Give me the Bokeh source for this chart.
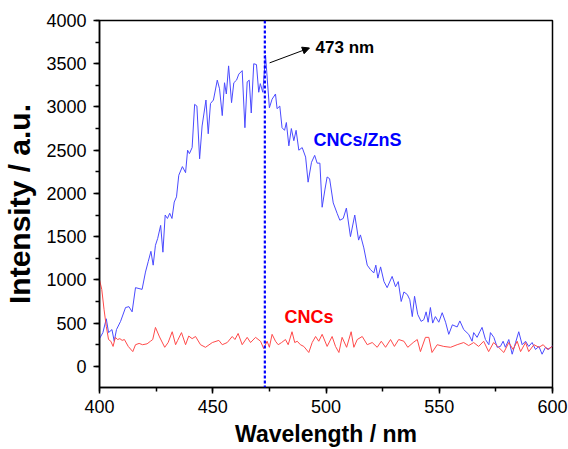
from bokeh.plotting import figure
from bokeh.models import Range1d, SingleIntervalTicker, Span, Label, Arrow, NormalHead
from bokeh.embed import file_html
from bokeh.resources import INLINE

# CNCs/ZnS emission spectrum (blue)
zns_x = [400, 401.5, 403, 404, 405.5, 406.5, 407.5, 409.3, 411.5, 413, 414.4, 415.9, 418.8, 420.3,
         421.5, 422.7, 423.7, 424.7, 425.7, 427, 428, 429, 430, 431, 432, 433, 434, 435, 436.6,
         438, 438.9, 439.7, 440.9, 442, 443, 444.2, 445.3, 447, 448, 449, 450.3, 452, 453, 454.2,
         455.2, 456, 457, 458.3, 459.3, 460.5, 461.5, 463, 464.2, 465.2, 466.1, 467, 468.1, 469.3,
         470.3, 471, 472.1, 473.3, 475, 476.2, 477.7, 478.4, 479.6, 480.6, 481.7, 482.5, 483.6,
         484.7, 485.8, 486.8, 488, 489.5, 491, 492.1, 493.6, 495, 496.1, 497.3, 498.3, 499.5,
         500.5, 501.6, 503.2, 504.9, 506.1, 507.6, 509, 510.8, 512.7, 514.4, 515.2, 516.7, 518.2,
         519.6, 521.1, 522, 522.9, 524.1, 525.6, 527, 529.2, 530.7, 531.9, 533.2, 534.4, 535.9,
         537, 538.1, 539.1, 540.5, 542, 543.2, 544.2, 545.1, 546.1, 547.1, 548.3, 549.8, 551.3,
         552.8, 554.2, 555.8, 557.9, 559.1, 560.8, 563, 564.5, 565.2, 566.7, 567.9, 568.9, 570.4,
         571.9, 572.6, 574.1, 575.6, 577, 578.2, 579.2, 580.7, 582.2, 583.7, 585.1, 586.6, 588.1,
         589.5, 591, 592.5, 594, 595.4, 596.9, 598.4, 600]
zns_y = [320, 390, 550, 390, 425, 290, 425, 520, 680, 690, 630, 910, 890, 1090,
         1210, 1330, 1170, 1400, 1480, 1630, 1320, 1750, 1710, 1770, 1710, 1900, 1960, 2210, 2310,
         2240, 2500, 2460, 2530, 3030, 3010, 2400, 2780, 3080, 2690, 3040, 3080, 3310, 3210, 2900,
         3280, 3150, 3475, 3050, 3280, 3310, 3380, 3420, 2760, 3290, 3310, 2930, 3500, 3490,
         3170, 3270, 3170, 3600, 2990, 3090, 3150, 2980, 3010, 2760, 2730, 2820, 2550,
         2750, 2610, 2730, 2500, 2530, 2420, 2130, 2360, 2440, 2350, 2350, 1840, 2040,
         2190, 2170, 1890, 1770, 1690, 1710, 1830, 1500, 1750, 1460, 1520, 1370, 1170,
         1120, 1080, 1170, 1020, 1150, 980, 910, 1040, 920, 980, 750, 860, 830,
         770, 575, 810, 600, 520, 540, 630, 510, 680, 500, 575, 510, 620,
         510, 370, 480, 455, 525, 425, 370, 290, 390, 335, 400, 450, 310,
         250, 390, 335, 220, 230, 290, 220, 310, 140, 275, 400, 250, 290,
         230, 275, 195, 230, 140, 220, 195, 240]

# CNCs emission spectrum (red)
cnc_x = [400, 401, 402, 403, 404, 405, 406, 407, 408, 409, 410, 411, 412.7, 414.7, 415.9, 417.5,
         419, 421, 422.5, 423.5, 424.7, 426.5, 428.8, 430.3, 432.1, 433.6, 434.5, 436.2, 438,
         439.4, 440.9, 442.4, 444.6, 446.8, 449.8, 452.7, 454.2, 456.4, 458.6, 459.8, 461.2, 463,
         465.2, 466.7, 468.9, 471.1, 472.5, 474, 475, 476.2, 477.7, 478.9, 480.4, 482.1, 483.3,
         485, 486.2, 487.3, 488.7, 490.2, 492.4, 493.9, 495.4, 496.8, 498.3, 500.5, 502.7, 504.2,
         505.7, 507.1, 509.1, 511.1, 512.3, 513.8, 516, 518.2, 520.4, 522.6, 524.4, 526.3, 528.5,
         530.2, 532.1, 534.4, 536.1, 538.5, 540.3, 541.7, 543.9, 545.4, 546.8, 549.1, 552, 555,
         557.9, 560.8, 563, 565.2, 567.4, 569.6, 571.8, 574, 576.2, 578.5, 580.7, 582.6, 584.4,
         585.9, 588.1, 589.5, 591.8, 594, 595.9, 597.7, 600]
cnc_y = [1000, 890, 660, 460, 310, 290, 230, 335, 310, 320, 300, 310, 230, 170, 250, 265,
         250, 260, 290, 310, 450, 340, 220, 275, 400, 250, 300, 390, 250,
         350, 320, 345, 250, 220, 275, 300, 250, 275, 345, 310, 380, 250,
         335, 275, 335, 290, 205, 290, 220, 370, 290, 250, 275, 310, 250,
         400, 275, 290, 250, 230, 160, 275, 345, 290, 370, 230, 345, 230,
         160, 335, 220, 400, 220, 310, 345, 250, 275, 220, 290, 220, 310,
         230, 310, 290, 220, 275, 310, 170, 335, 335, 160, 250, 230, 220,
         250, 275, 240, 275, 230, 290, 170, 275, 220, 160, 275, 195, 290,
         170, 275, 170, 250, 220, 250, 195, 230]

peak_nm = 473
peak_label = "473 nm"
x_ticks_interval = 50
y_ticks_interval = 500

FONT = "Liberation Sans"

p = figure(width=568, height=449, output_backend="svg", toolbar_location=None,
           x_range=Range1d(400, 600), y_range=Range1d(-245, 4000),
           min_border_left=99, min_border_right=16, min_border_top=20, min_border_bottom=61)
p.background_fill_color = "white"
p.border_fill_color = "white"
p.outline_line_color = "black"
p.outline_line_width = 1.5
p.xgrid.visible = False
p.ygrid.visible = False

p.line(zns_x, zns_y, line_color="#4a4aff", line_width=1)
p.line(cnc_x, cnc_y, line_color="#ff4a4a", line_width=1)

p.add_layout(Span(location=peak_nm, dimension="height", line_color="#0000ff",
                  line_width=2.2, line_dash="3 2"))

p.add_layout(Arrow(end=NormalHead(size=7, fill_color="black", line_color="black"),
                   x_start=475.1, y_start=3510, x_end=492.7, y_end=3682,
                   line_color="black", line_width=1))
p.add_layout(Label(x=495.4, y=3682, text=peak_label, text_font=FONT, text_font_size="17px",
                   text_font_style="bold", text_color="black", text_baseline="middle"))
p.add_layout(Label(x=494.5, y=2612, text="CNCs/ZnS", text_font=FONT, text_font_size="18px",
                   text_font_style="bold", text_color="#0000ff", text_baseline="middle"))
p.add_layout(Label(x=481.7, y=575, text="CNCs", text_font=FONT, text_font_size="18px",
                   text_font_style="bold", text_color="#ff0000", text_baseline="middle"))

for ax in (p.xaxis[0], p.yaxis[0]):
    ax.axis_line_color = "black"
    ax.axis_line_width = 1.5
    ax.major_tick_line_color = "black"
    ax.minor_tick_line_color = "black"
    ax.major_tick_line_width = 1.5
    ax.minor_tick_line_width = 1.5
    ax.major_tick_in = 0
    ax.major_tick_out = 6
    ax.minor_tick_in = 0
    ax.minor_tick_out = 4
    ax.major_label_text_font = FONT
    ax.major_label_text_font_size = "18px"
    ax.major_label_text_color = "black"
    ax.axis_label_text_font = FONT
    ax.axis_label_text_font_style = "bold"
    ax.axis_label_text_color = "black"

p.xaxis.ticker = SingleIntervalTicker(interval=x_ticks_interval, num_minor_ticks=2)
p.yaxis.ticker = SingleIntervalTicker(interval=y_ticks_interval, num_minor_ticks=2)
p.yaxis.axis_label = "Intensity / a.u."
p.yaxis.axis_label_text_font_size = "30px"
p.xaxis.axis_label = "Wavelength / nm"
p.xaxis.axis_label_text_font_size = "23px"
p.xaxis.major_label_standoff = 6
p.xaxis.axis_label_standoff = 5
p.yaxis.major_label_standoff = 7
p.yaxis.axis_label_standoff = 7

open("out.html", "w").write(file_html(p, INLINE))
